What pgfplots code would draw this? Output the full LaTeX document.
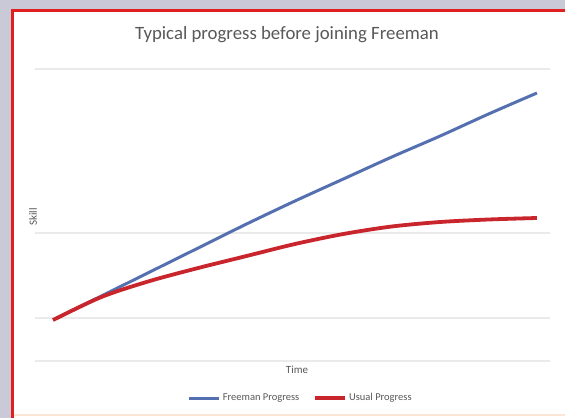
\documentclass[border=0pt]{standalone}
\usepackage{pgfplots}
\pgfplotsset{compat=1.18}
\usepackage{fontspec}
\setmainfont{Carlito}
\definecolor{bgframe}{HTML}{C9C9D7}
\definecolor{framered}{HTML}{E0201F}
\definecolor{peach}{HTML}{FBE5D6}
\definecolor{txtgrey}{HTML}{595959}
\definecolor{gridgrey}{HTML}{EAEAEA}
\definecolor{freeblue}{HTML}{5570B0}
\definecolor{usualred}{HTML}{C8262C}

\pgfplotstableread{
t   y
0   41
1   65
2   89
3   113
4   137
5   160
6   182
7   204
8   225
9   247
10  268
}\freeman

\pgfplotstableread{
t   y
0   41
1   64
2   80
3   93
4   105
5   117
6   127
7   134.5
8   139
9   141.5
10  143
}\usual

\begin{document}
\begin{tikzpicture}[x=1pt,y=1pt]
% page background and frame
\fill[bgframe] (0,0) rectangle (565,418);
\fill[white] (12,0) rectangle (565,408);
\draw[peach, line width=2pt] (14,3) -- (565,3);
\draw[framered, line width=3pt] (12.5,0) -- (12.5,407.5) -- (565,407.5);

\begin{axis}[
  at={(35pt,57pt)}, anchor=south west,
  scale only axis,
  width=515pt, height=292pt,
  xmin=-0.372, xmax=10.27,
  ymin=0, ymax=292,
  xtick=\empty,
  ytick={0,43,128,292},
  yticklabels={},
  major tick length=0pt,
  axis line style={draw=none},
  ymajorgrids,
  grid style={gridgrey, line width=1.3pt},
  clip=false,
  legend columns=2,
  legend style={at={(0.516,-0.127)}, anchor=center, draw=none, fill=none,
    font=\fontsize{10.5}{12}\selectfont\color{txtgrey},
    /tikz/every even column/.append style={column sep=12pt}},
  legend image code/.code={\draw[#1] (0pt,0pt) -- (30pt,0pt);},
]
\addplot[freeblue, line width=3pt, smooth] table[x=t, y=y] {\freeman};
\addlegendentry{Freeman Progress}
\addplot[usualred, line width=3.8pt, smooth] table[x=t, y=y] {\usual};
\addlegendentry{Usual Progress}
\end{axis}

\node[txtgrey, font=\fontsize{18.8}{21}\selectfont] at (287,383) {Typical progress before joining Freeman};
\node[txtgrey, font=\fontsize{11}{12}\selectfont, rotate=90] at (33,201) {Skill};
\node[txtgrey, font=\fontsize{11}{12}\selectfont] at (297,48) {Time};

\pgfresetboundingbox
\path (0,0) rectangle (565,418);
\end{tikzpicture}
\end{document}
